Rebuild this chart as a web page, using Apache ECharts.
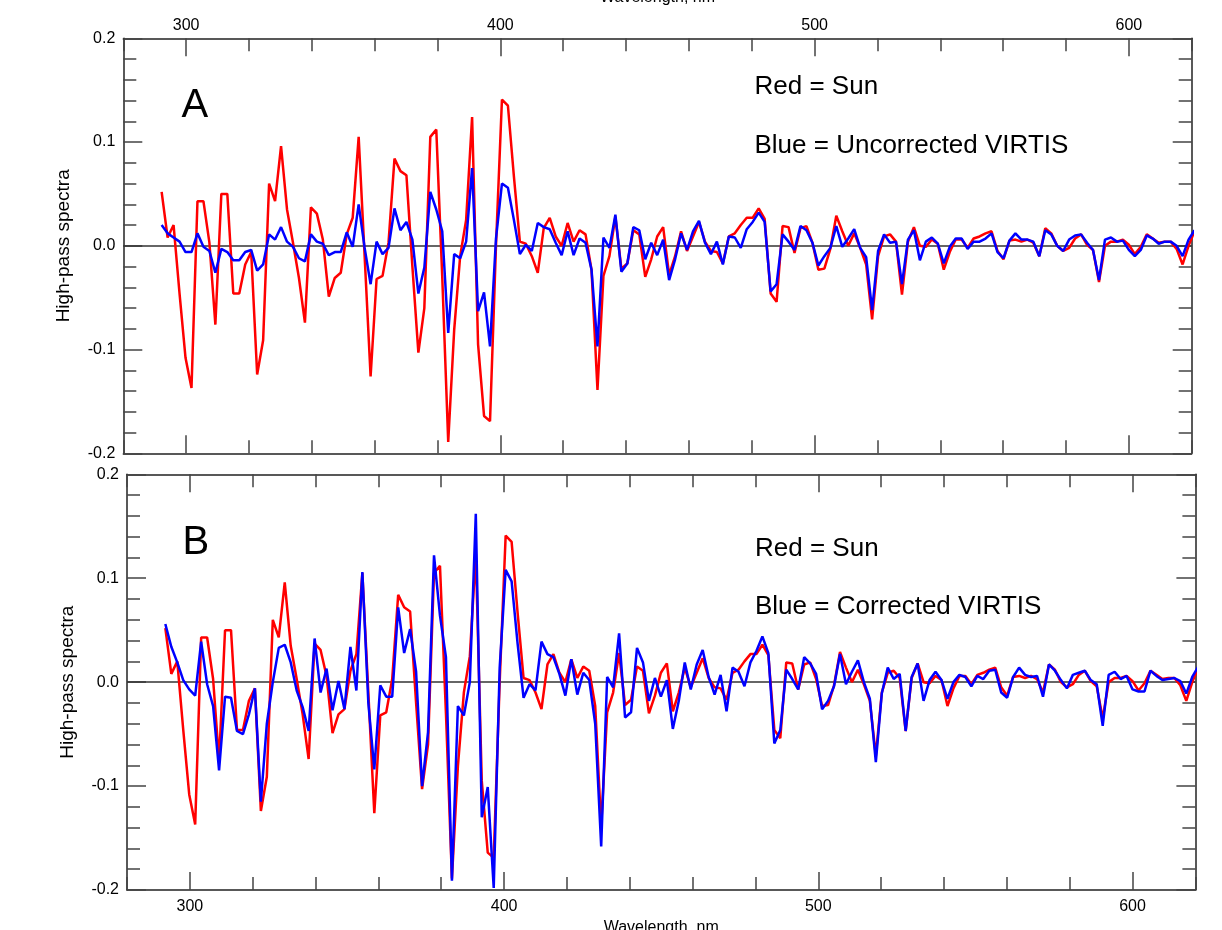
<!DOCTYPE html>
<html>
<head>
<meta charset="utf-8">
<title>High-pass spectra</title>
<script src="https://cdn.jsdelivr.net/npm/echarts@6/dist/echarts.min.js"></script>
<style>
  html, body { margin: 0; padding: 0; background: #fff; }
  #chart { width: 1222px; height: 930px; }
</style>
</head>
<body>
<div id="chart"></div>
<script>
// wavelength of each channel, nm
const wavelengths = [
  292.2,294.1,296.0,297.9,299.8,301.7,303.6,305.5,307.4,309.3,
  311.2,313.1,315.0,316.9,318.8,320.7,322.6,324.5,326.4,328.3,
  330.2,332.1,334.0,335.9,337.8,339.7,341.6,343.5,345.4,347.3,
  349.2,351.1,353.0,354.9,356.8,358.7,360.6,362.5,364.4,366.3,
  368.2,370.1,372.0,373.9,375.8,377.7,379.6,381.5,383.4,385.3,
  387.2,389.1,391.0,392.9,394.8,396.7,398.6,400.5,402.4,404.3,
  406.2,408.1,410.0,411.9,413.8,415.7,417.6,419.5,421.4,423.3,
  425.2,427.1,429.0,430.9,432.8,434.7,436.6,438.5,440.4,442.3,
  444.2,446.1,448.0,449.9,451.8,453.7,455.6,457.5,459.4,461.3,
  463.2,465.1,467.0,468.9,470.8,472.7,474.6,476.5,478.4,480.3,
  482.2,484.1,486.0,487.9,489.8,491.7,493.6,495.5,497.4,499.3,
  501.2,503.1,505.0,506.9,508.8,510.7,512.6,514.5,516.4,518.3,
  520.2,522.1,524.0,525.9,527.8,529.7,531.6,533.5,535.4,537.3,
  539.2,541.1,543.0,544.9,546.8,548.7,550.6,552.5,554.4,556.3,
  558.2,560.1,562.0,563.9,565.8,567.7,569.6,571.5,573.4,575.3,
  577.2,579.1,581.0,582.9,584.8,586.7,588.6,590.5,592.4,594.3,
  596.2,598.1,600.0,601.9,603.8,605.7,607.6,609.5,611.4,613.3,
  615.2,617.1,619.0,620.9
];

// red: Sun
const sun = [
  0.052,0.008,0.020,-0.046,-0.108,-0.137,0.043,0.043,0.003,-0.076,
  0.050,0.050,-0.046,-0.046,-0.018,-0.006,-0.124,-0.091,0.060,0.043,
  0.096,0.035,0.003,-0.031,-0.074,0.037,0.031,0.006,-0.049,-0.031,
  -0.026,0.011,0.027,0.105,-0.010,-0.126,-0.032,-0.029,0.003,0.084,
  0.072,0.068,-0.020,-0.103,-0.060,0.105,0.112,-0.030,-0.189,-0.081,
  -0.010,0.025,0.124,-0.095,-0.164,-0.169,0.000,0.141,0.135,0.067,
  0.004,0.002,-0.010,-0.026,0.017,0.027,0.009,0.000,0.022,0.004,
  0.015,0.011,-0.023,-0.139,-0.029,-0.010,0.028,-0.022,-0.017,0.015,
  0.011,-0.030,-0.013,0.009,0.018,-0.028,-0.010,0.014,-0.005,0.009,
  0.023,0.004,-0.005,-0.006,-0.017,0.009,0.012,0.020,0.027,0.027,
  0.036,0.026,-0.046,-0.054,0.019,0.018,-0.007,0.017,0.019,0.003,
  -0.023,-0.022,-0.003,0.029,0.014,0.000,0.012,-0.002,-0.018,-0.071,
  -0.010,0.009,0.011,0.004,-0.047,0.004,0.018,0.000,-0.001,0.006,
  0.002,-0.023,-0.006,0.006,0.006,-0.002,0.007,0.009,0.012,0.014,
  -0.005,-0.013,0.005,0.006,0.004,0.006,0.003,-0.010,0.017,0.012,
  0.000,-0.005,-0.002,0.007,0.011,0.001,-0.004,-0.035,0.000,0.004,
  0.004,0.006,0.001,-0.008,-0.001,0.011,0.007,0.003,0.004,0.004,
  -0.003,-0.018,0.000,0.014
];

// blue, panel A: uncorrected VIRTIS
const uncorrected = [
  0.020,0.012,0.008,0.004,-0.006,-0.006,0.012,-0.001,-0.005,-0.026,
  -0.003,-0.006,-0.014,-0.014,-0.006,-0.004,-0.024,-0.018,0.011,0.006,
  0.018,0.004,-0.001,-0.012,-0.015,0.011,0.004,0.002,-0.009,-0.006,
  -0.006,0.013,-0.001,0.040,-0.002,-0.037,0.004,-0.008,-0.002,0.036,
  0.015,0.023,0.006,-0.046,-0.021,0.052,0.035,0.014,-0.084,-0.008,
  -0.012,0.004,0.075,-0.063,-0.045,-0.097,0.007,0.060,0.056,0.025,
  -0.008,0.001,-0.005,0.022,0.018,0.016,0.003,-0.009,0.014,-0.009,
  0.007,0.003,-0.023,-0.097,0.008,-0.002,0.030,-0.025,-0.017,0.018,
  0.015,-0.013,0.003,-0.009,0.006,-0.033,-0.013,0.012,-0.004,0.014,
  0.024,0.003,-0.008,0.004,-0.018,0.009,0.008,-0.002,0.016,0.023,
  0.032,0.023,-0.044,-0.037,0.011,0.004,-0.004,0.019,0.015,0.003,
  -0.019,-0.010,-0.002,0.019,-0.001,0.007,0.016,-0.002,-0.011,-0.062,
  -0.005,0.011,0.003,0.004,-0.037,0.006,0.015,-0.014,0.004,0.008,
  0.002,-0.017,-0.001,0.007,0.007,-0.003,0.004,0.004,0.007,0.012,
  -0.006,-0.012,0.005,0.012,0.006,0.006,0.004,-0.010,0.015,0.011,
  0.000,-0.005,0.006,0.010,0.011,0.003,-0.004,-0.033,0.006,0.008,
  0.004,0.005,-0.004,-0.010,-0.004,0.010,0.007,0.002,0.004,0.004,
  0.000,-0.010,0.006,0.015
];

// blue, panel B: corrected VIRTIS
const corrected = [
  0.056,0.034,0.019,0.002,-0.007,-0.013,0.039,-0.002,-0.023,-0.085,
  -0.014,-0.015,-0.047,-0.050,-0.031,-0.006,-0.115,-0.040,0.000,0.033,
  0.036,0.019,-0.008,-0.024,-0.047,0.042,-0.010,0.013,-0.027,0.001,
  -0.026,0.034,-0.008,0.106,-0.020,-0.084,-0.003,-0.014,-0.014,0.072,
  0.028,0.051,0.010,-0.100,-0.048,0.122,0.064,0.024,-0.191,-0.023,
  -0.032,0.000,0.162,-0.130,-0.101,-0.198,0.014,0.108,0.097,0.037,
  -0.015,-0.002,-0.008,0.039,0.027,0.024,0.008,-0.013,0.022,-0.012,
  0.009,0.002,-0.040,-0.158,0.005,-0.005,0.047,-0.034,-0.029,0.033,
  0.019,-0.018,0.004,-0.014,0.002,-0.045,-0.018,0.019,-0.007,0.017,
  0.031,0.005,-0.012,0.007,-0.028,0.014,0.010,-0.004,0.019,0.030,
  0.044,0.028,-0.059,-0.046,0.012,0.003,-0.007,0.024,0.018,0.008,
  -0.026,-0.018,-0.004,0.027,-0.002,0.010,0.021,0.000,-0.016,-0.077,
  -0.011,0.014,0.003,0.008,-0.047,0.005,0.018,-0.018,0.002,0.010,
  0.002,-0.016,0.000,0.007,0.005,-0.004,0.006,0.003,0.011,0.012,
  -0.010,-0.015,0.005,0.014,0.007,0.005,0.006,-0.014,0.017,0.011,
  0.002,-0.006,0.007,0.009,0.011,0.002,-0.002,-0.042,0.007,0.010,
  0.003,0.006,-0.007,-0.009,-0.009,0.011,0.006,0.002,0.003,0.004,
  0.001,-0.011,0.005,0.015
];

const majorWl = [300, 400, 500, 600];
const FONT = '"Liberation Sans", Arial, sans-serif';
const LINE = '#222';
const TICK = '#444';

const pairs = (ys) => wavelengths.map((w, i) => [w, ys[i]]);

// x axes: 4 per panel (top minor, top major, bottom minor, bottom major)
function xAxes(grid, labelSide, name) {
  const list = [];
  ['top', 'bottom'].forEach(pos => {
    const withLabels = pos === labelSide;
    list.push({
      gridIndex: grid, type: 'value', position: pos,
      min: 280, max: 620, interval: 20,
      axisLine: { show: true, onZero: false, lineStyle: { color: LINE, width: 1.5 } },
      axisTick: { inside: true, length: 13, lineStyle: { color: TICK, width: 1.5 } },
      axisLabel: {
        show: withLabels, customValues: majorWl,
        margin: pos === 'top' ? 5 : 9,
        fontSize: 16, fontFamily: FONT, color: '#000'
      },
      splitLine: { show: false },
      name: withLabels ? name : '',
      nameLocation: 'middle',
      nameGap: pos === 'top' ? 33 : 30,
      nameTextStyle: { fontSize: 16, fontFamily: FONT, color: '#000' }
    });
    list.push({
      gridIndex: grid, type: 'value', position: pos,
      min: 280, max: 620,
      axisLine: { show: false, onZero: false },
      axisTick: { show: true, inside: true, length: 18, customValues: majorWl,
                  lineStyle: { color: TICK, width: 1.5 } },
      axisLabel: { show: false },
      splitLine: { show: false }
    });
  });
  return list;
}

function yAxes(grid) {
  return ['left', 'right'].map(pos => ({
    gridIndex: grid, type: 'value', position: pos,
    min: -0.2, max: 0.2, interval: 0.1,
    axisLine: { show: true, onZero: false, lineStyle: { color: LINE, width: 1.5 } },
    axisTick: { inside: true, length: 19, lineStyle: { color: TICK, width: 1.5 } },
    minorTick: { show: true, splitNumber: 5, length: 13, lineStyle: { color: TICK, width: 1.5 } },
    axisLabel: {
      show: pos === 'left', margin: 8,
      fontSize: 16, fontFamily: FONT, color: '#000',
      formatter: v => v.toFixed(1)
    },
    splitLine: { show: false },
    name: pos === 'left' ? 'High-pass spectra' : '',
    nameLocation: 'middle',
    nameGap: 50,
    nameTextStyle: { fontSize: 19, fontFamily: FONT, color: '#000' }
  }));
}

function panelSeries(grid, blue) {
  const xi = grid * 4, yi = grid * 2;
  return [
    {
      type: 'line', xAxisIndex: xi, yAxisIndex: yi, data: [], z: 1,
      markLine: {
        silent: true, symbol: 'none', z: 1, animation: false,
        label: { show: false },
        lineStyle: { color: '#333', width: 1.5, type: 'solid' },
        data: [{ yAxis: 0 }]
      }
    },
    {
      name: 'Sun', type: 'line', xAxisIndex: xi, yAxisIndex: yi, z: 2,
      data: pairs(sun), showSymbol: false,
      lineStyle: { color: '#ff0000', width: 2.5 }, itemStyle: { color: '#ff0000' }
    },
    {
      name: 'VIRTIS', type: 'line', xAxisIndex: xi, yAxisIndex: yi, z: 3,
      data: pairs(blue), showSymbol: false,
      lineStyle: { color: '#0000ff', width: 2.5 }, itemStyle: { color: '#0000ff' }
    }
  ];
}

function note(text, x, y, size) {
  return {
    type: 'text', x: x, y: y, silent: true,
    style: { text: text, fill: '#000', font: size + 'px ' + FONT, verticalAlign: 'middle', align: 'left' }
  };
}

const chart = echarts.init(document.getElementById('chart'), null, { renderer: 'canvas' });
chart.setOption({
  animation: false,
  backgroundColor: '#fff',
  grid: [
    { left: 123.3, top: 38.3, width: 1068.4, height: 415, outerBoundsMode: 'none', containLabel: false },
    { left: 127, top: 474.3, width: 1068.4, height: 415.7, outerBoundsMode: 'none', containLabel: false }
  ],
  xAxis: xAxes(0, 'top', 'Wavelength, nm').concat(xAxes(1, 'bottom', 'Wavelength, nm')),
  yAxis: yAxes(0).concat(yAxes(1)),
  series: panelSeries(0, uncorrected).concat(panelSeries(1, corrected)),
  graphic: [
    note('A', 181.5, 106, 40),
    note('Red = Sun', 754.5, 86.5, 26),
    note('Blue = Uncorrected VIRTIS', 754.5, 146, 26),
    note('B', 182.5, 542.5, 40),
    note('Red = Sun', 755, 548.5, 26),
    note('Blue = Corrected VIRTIS', 755, 607, 26)
  ]
});
</script>
</body>
</html>
